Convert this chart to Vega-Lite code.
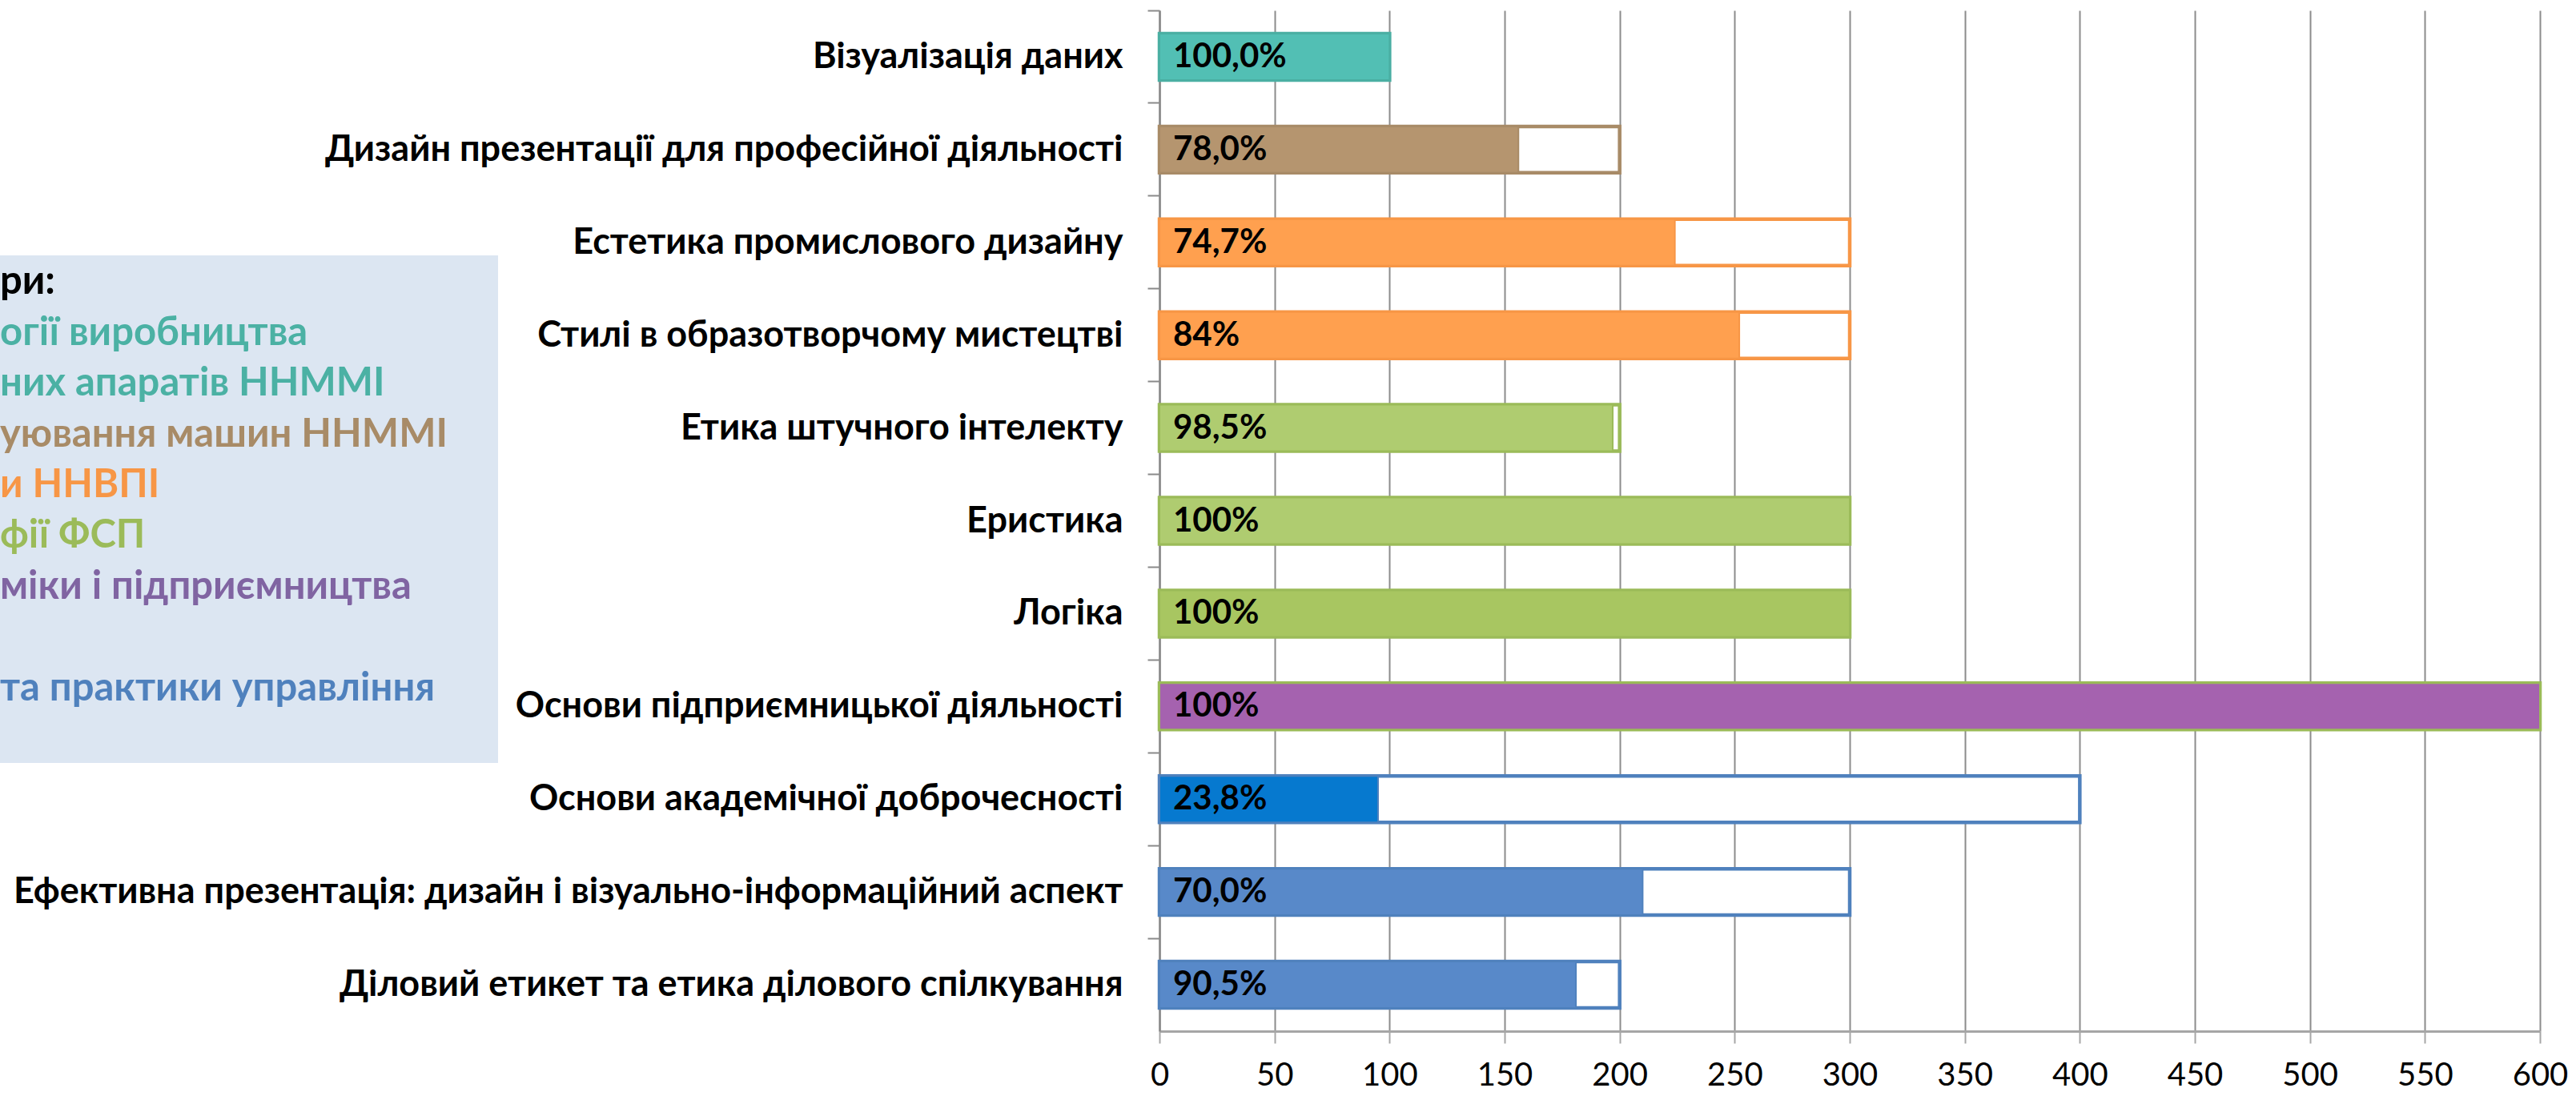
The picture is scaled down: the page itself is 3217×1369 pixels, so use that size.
{
  "$schema": "https://vega.github.io/schema/vega-lite/v6.json",
  "padding": {"left": 0, "top": 12, "right": 0, "bottom": 0},
  "background": "white",
  "bounds": "flush",
  "spacing": 1448,
  "config": {"view": {"stroke": null}},
  "hconcat": [
    {
      "spacing": 20,
      "vconcat": [
        {
          "width": 622,
          "height": 286,
          "data": {"values": [{"t": ""}]},
          "mark": {"type": "text"},
          "encoding": {"text": {"field": "t"}}
        },
        {
          "width": 622,
          "height": 634,
          "view": {"fill": "#DCE6F2", "stroke": null},
          "data": {"values": [
            {"line": 0, "text": "ри:", "dept": "Кафедри"},
            {"line": 1, "text": "огії виробництва", "dept": "технології виробництва"},
            {"line": 2, "text": "них апаратів ННММІ", "dept": "літальних апаратів ННММІ"},
            {"line": 3, "text": "уювання машин ННММІ", "dept": "конструювання машин ННММІ"},
            {"line": 4, "text": "и ННВПІ", "dept": "ННВПІ"},
            {"line": 5, "text": "фії ФСП", "dept": "філософії ФСП"},
            {"line": 6, "text": "міки і підприємництва", "dept": "економіки і підприємництва"},
            {"line": 8, "text": "та практики управління", "dept": "теорії та практики управління"}
          ]},
          "mark": {"type": "text", "align": "left", "baseline": "alphabetic", "font": "Lato", "fontSize": 49, "fontWeight": "bold"},
          "encoding": {
            "x": {"datum": 0, "type": "quantitative", "scale": {"domain": [0, 1], "nice": false, "zero": false}, "axis": null},
            "y": {"field": "line", "type": "ordinal", "scale": {"type": "point", "domain": [0, 1, 2, 3, 4, 5, 6, 7, 8], "padding": 1.3, "align": 0.381}, "axis": null},
            "text": {"field": "text"},
            "color": {
              "field": "dept", "type": "nominal", "legend": null,
              "scale": {
                "domain": ["Кафедри", "технології виробництва", "літальних апаратів ННММІ", "конструювання машин ННММІ", "ННВПІ", "філософії ФСП", "економіки і підприємництва", "теорії та практики управління"],
                "range": ["#000000", "#4BB1A4", "#4BB1A4", "#A88B67", "#F79646", "#9BBB59", "#8064A2", "#4F81BD"]
              }
            }
          }
        }
      ]
    },
    {
      "width": 1724,
      "height": 1275,
      "data": {"values": [
        {"course": "Візуалізація даних", "total": 100, "value": 100, "pct": "100,0%"},
        {"course": "Дизайн презентації для професійної діяльності", "total": 200, "value": 156, "pct": "78,0%"},
        {"course": "Естетика промислового дизайну", "total": 300, "value": 224, "pct": "74,7%"},
        {"course": "Стилі в образотворчому мистецтві", "total": 300, "value": 252, "pct": "84%"},
        {"course": "Етика штучного інтелекту", "total": 200, "value": 197, "pct": "98,5%"},
        {"course": "Еристика", "total": 300, "value": 300, "pct": "100%"},
        {"course": "Логіка", "total": 300, "value": 300, "pct": "100%"},
        {"course": "Основи підприємницької діяльності", "total": 600, "value": 600, "pct": "100%"},
        {"course": "Основи академічної доброчесності", "total": 400, "value": 95, "pct": "23,8%"},
        {"course": "Ефективна презентація: дизайн і візуально-інформаційний аспект", "total": 300, "value": 210, "pct": "70,0%"},
        {"course": "Діловий етикет та етика ділового спілкування", "total": 200, "value": 181, "pct": "90,5%"}
      ]},
      "encoding": {
        "y": {
          "field": "course", "type": "nominal", "sort": null,
          "scale": {"paddingInner": 0.5, "paddingOuter": 0.25},
          "axis": {
            "title": null, "grid": false,
            "labelFont": "Lato", "labelFontSize": 45, "labelFontWeight": "bold", "labelColor": "#000000",
            "labelPadding": 31, "labelLimit": 2000,
            "tickSize": 15, "tickWidth": 2, "tickColor": "#8A8A8A", "bandPosition": -0.5,
            "domainColor": "#8A8A8A", "domainWidth": 2.5
          }
        }
      },
      "layer": [
        {
          "mark": {"type": "bar", "fill": "#FFFFFF", "strokeWidth": 4.5},
          "encoding": {
            "x": {
              "field": "total", "type": "quantitative", "stack": null,
              "scale": {"domain": [0, 600], "nice": false},
              "axis": {
                "title": null, "values": [0, 50, 100, 150, 200, 250, 300, 350, 400, 450, 500, 550, 600],
                "grid": true, "gridColor": "#8C8C8C", "gridWidth": 2,
                "tickSize": 15, "tickWidth": 2, "tickColor": "#A6A6A6",
                "domainColor": "#A6A6A6", "domainWidth": 3,
                "labelFont": "Lato", "labelFontSize": 40, "labelColor": "#000000",
                "labelPadding": 20, "labelFlush": false
              }
            },
            "stroke": {
              "field": "course", "type": "nominal", "legend": null,
              "scale": {
                "domain": ["Візуалізація даних", "Дизайн презентації для професійної діяльності", "Естетика промислового дизайну", "Стилі в образотворчому мистецтві", "Етика штучного інтелекту", "Еристика", "Логіка", "Основи підприємницької діяльності", "Основи академічної доброчесності", "Ефективна презентація: дизайн і візуально-інформаційний аспект", "Діловий етикет та етика ділового спілкування"],
                "range": ["#4AAFA3", "#A88B67", "#F79646", "#F79646", "#9BBB59", "#9BBB59", "#9BBB59", "#9BBB59", "#4F81BD", "#4F81BD", "#4F81BD"]
              }
            }
          }
        },
        {
          "mark": {"type": "bar", "strokeWidth": 2},
          "encoding": {
            "x": {"field": "value", "type": "quantitative", "stack": null},
            "fill": {
              "field": "course", "type": "nominal", "legend": null,
              "scale": {
                "domain": ["Візуалізація даних", "Дизайн презентації для професійної діяльності", "Естетика промислового дизайну", "Стилі в образотворчому мистецтві", "Етика штучного інтелекту", "Еристика", "Логіка", "Основи підприємницької діяльності", "Основи академічної доброчесності", "Ефективна презентація: дизайн і візуально-інформаційний аспект", "Діловий етикет та етика ділового спілкування"],
                "range": ["#52BFB4", "#B5956F", "#FFA04F", "#FFA04F", "#AFCC70", "#AFCC70", "#A8C661", "#A562AF", "#0679CF", "#5889C9", "#5889C9"]
              }
            },
            "stroke": {"field": "course", "type": "nominal", "legend": null}
          }
        },
        {
          "mark": {"type": "text", "align": "left", "baseline": "middle", "dx": 17, "font": "Lato", "fontSize": 42, "fontWeight": "bold", "color": "#000000"},
          "encoding": {
            "x": {"datum": 0, "type": "quantitative"},
            "text": {"field": "pct"}
          }
        }
      ]
    }
  ]
}
